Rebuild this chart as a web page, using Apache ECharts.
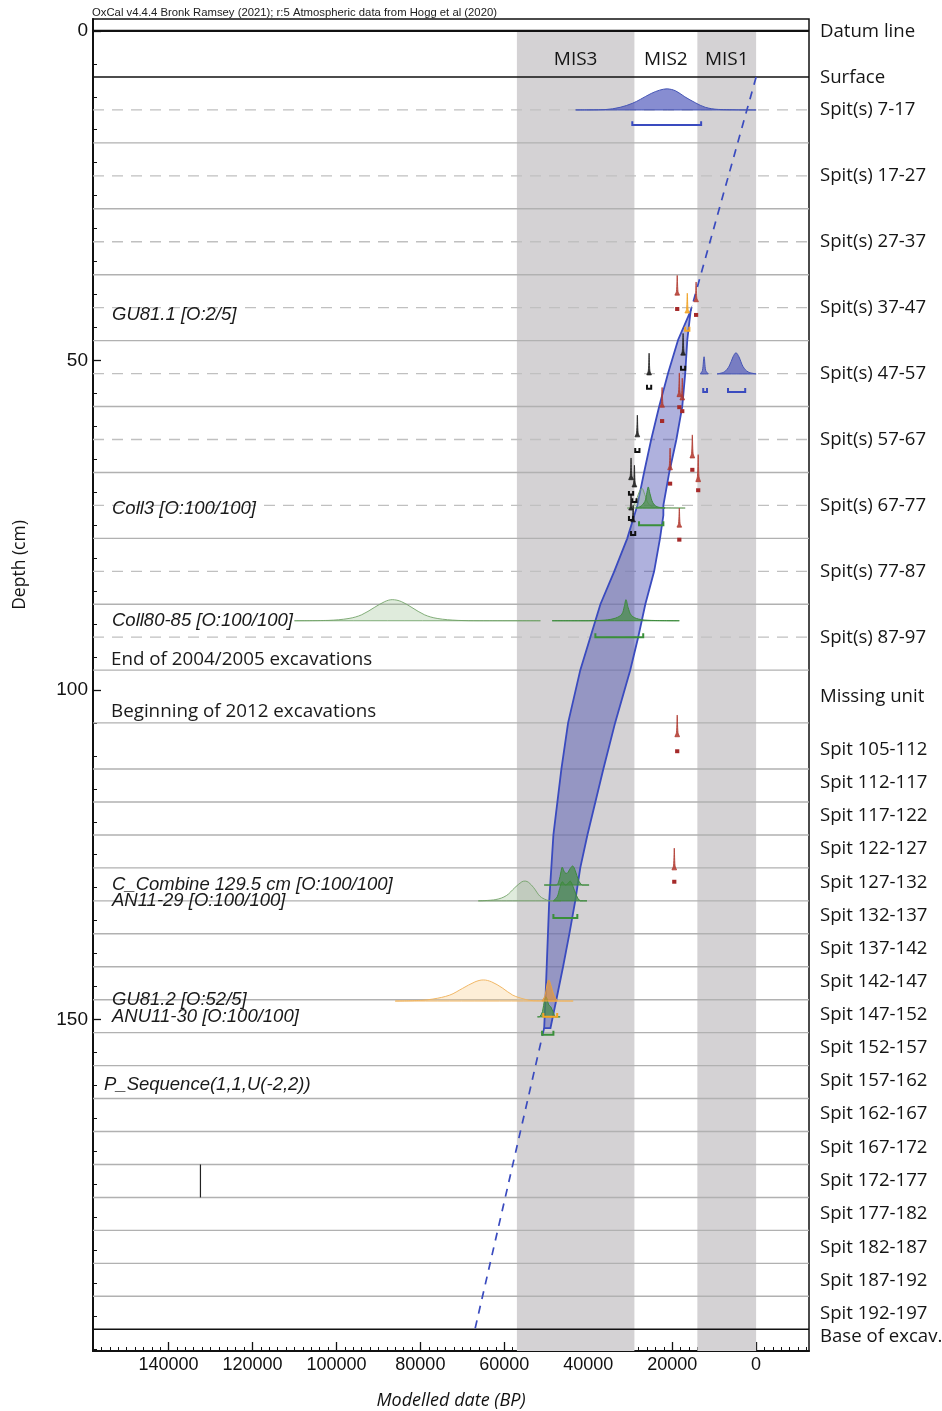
<!DOCTYPE html>
<html>
<head>
<meta charset="utf-8">
<script src="https://cdn.jsdelivr.net/npm/echarts@6/dist/echarts.min.js"></script>
<style>
  html, body { margin: 0; padding: 0; background: #fff; }
  #chart { width: 942px; height: 1411px; }
</style>
</head>
<body>
<div id="chart"></div>
<script>
// ---- Axis extents: modelled age (years BP) and depth below datum (cm) ----
const AGE_MAX = 158000;
const AGE_MIN = -12600;
const DEPTH_TOP = -1.8;
const DEPTH_BOTTOM = 200.3;

const ageTicks = [140000, 120000, 100000, 80000, 60000, 40000, 20000, 0];
const depthTicks = [0, 50, 100, 150];

// ---- Marine isotope stages (years BP) ----
const stageNames = ['MIS3', 'MIS2', 'MIS1'];
const stageOld = [57000, 29000, 14000];
const stageYoung = [29000, 14000, 0];

// ---- Stratigraphy (cm) ----
const spitBoundaries = [17, 27, 37, 47, 57, 67, 77, 87, 97, 105, 112, 117, 122, 127, 132, 137,
  142, 147, 152, 157, 162, 167, 172, 177, 182, 187, 192];
const spitMidlines = [12, 22, 32, 42, 52, 62, 72, 82, 92];
const markerLines = [0, 7, 197];            // datum, surface, base of excavation

const unitLabels = ['Datum line', 'Surface', 'Spit(s) 7-17', 'Spit(s) 17-27', 'Spit(s) 27-37',
  'Spit(s) 37-47', 'Spit(s) 47-57', 'Spit(s) 57-67', 'Spit(s) 67-77', 'Spit(s) 77-87',
  'Spit(s) 87-97', 'Missing unit', 'Spit 105-112', 'Spit 112-117', 'Spit 117-122',
  'Spit 122-127', 'Spit 127-132', 'Spit 132-137', 'Spit 137-142', 'Spit 142-147',
  'Spit 147-152', 'Spit 152-157', 'Spit 157-162', 'Spit 162-167', 'Spit 167-172',
  'Spit 172-177', 'Spit 177-182', 'Spit 182-187', 'Spit 187-192', 'Spit 192-197', 'Base of excav.'];
const unitDepths = [0.1, 7.1, 12, 22, 32, 42, 52, 62, 72, 82, 92, 101, 109, 114.1, 119.1,
  124.1, 129.2, 134.2, 139.2, 144.2, 149.3, 154.3, 159.3, 164.3, 169.5, 174.5, 179.5,
  184.6, 189.6, 194.6, 198.2];

// ---- Model annotations ----
const noteTexts = ['GU81.1 [O:2/5]', 'Coll3 [O:100/100]', 'Coll80-85 [O:100/100]',
  'End of 2004/2005 excavations', 'Beginning of 2012 excavations',
  'C_Combine 129.5 cm [O:100/100]', 'AN11-29 [O:100/100]', 'GU81.2 [O:52/5]',
  'ANU11-30 [O:100/100]', 'P_Sequence(1,1,U(-2,2))'];
const noteDepths = [43.1, 72.5, 89.5, 95.4, 103.3, 129.6, 132.0, 147.0, 149.6, 159.9];

// ---- Age-depth model: 95% envelope [age BP, depth cm] ----
const envelopeOld = [[15600, 42.5], [18600, 46.9], [21000, 52], [23100, 57], [25000, 62],
  [26700, 67], [28300, 72], [30700, 77], [33800, 82], [37100, 87], [39500, 92], [41900, 97],
  [44800, 105], [46400, 112], [48300, 122], [49300, 132], [49900, 142], [50200, 147], [50500, 151.3]];
const envelopeYoung = [[15600, 42.5], [16400, 46.9], [16900, 52], [17600, 57], [19000, 62],
  [20700, 67], [22100, 72], [22100, 73.5], [22900, 77], [24300, 82], [26400, 87], [28100, 92],
  [30000, 97], [33600, 105], [36400, 112], [40200, 122], [41900, 127], [43100, 132],
  [44500, 137], [46000, 142], [47600, 147], [49000, 151.3]];
// Extrapolated model line above and below the dated section
const modelLineTop = [[0, 7], [15600, 42.5]];
const modelLineBottom = [[50500, 151.3], [67100, 197.3]];

// ---- Probability distributions: baseline depth + outline [age BP, height cm] ----
const blueDists = [
  { depth: 12.0, pts: [[43000, 0], [36000, 0.05], [32400, 0.4], [29500, 1.0], [27600, 1.6], [25000, 2.5],
    [23000, 3.0], [21200, 3.2], [19200, 2.9], [17000, 2.0], [14500, 1.1], [12100, 0.4], [9000, 0.08], [0, 0]] },
  { depth: 52.05, pts: [[13300, 0], [12800, 0.5], [12400, 2.6], [12000, 0.5], [11400, 0]] },
  { depth: 52.05, pts: [[9300, 0], [7600, 0.3], [6400, 1.2], [5500, 2.6], [4800, 3.2], [4100, 2.6],
    [3100, 1.1], [1900, 0.3], [0, 0]] }
];
const blueRanges = [[29500, 13100, 14.3], [12600, 11700, 54.8], [6700, 2600, 54.8]];

const greenPriors = [
  { depth: 72.4, pts: [[30700, 0], [29800, 0], [28800, 0.8], [27900, 2.4], [27200, 3.0], [26500, 2.0],
    [25600, 0.6], [24200, 0.1], [16900, 0]] },
  { depth: 89.5, pts: [[110000, 0], [102000, 0.05], [97000, 0.35], [94000, 0.9], [91000, 2.0], [88500, 2.9],
    [86700, 3.2], [84500, 2.9], [82000, 2.0], [79000, 0.9], [76000, 0.35], [71000, 0.05], [66000, 0], [51400, 0]] },
  { depth: 132.0, pts: [[66200, 0], [62000, 0.2], [59500, 0.8], [57500, 2.0], [55800, 2.9], [55000, 3.0],
    [54200, 2.8], [53000, 2.0], [51500, 0.7], [50000, 0.15], [49000, 0], [46500, 0]] }
];
const greenPosteriors = [
  { depth: 72.4, pts: [[28600, 0], [27400, 0.3], [26500, 1.0], [26000, 2.4], [25700, 3.2], [25300, 2.2],
    [24600, 0.8], [23600, 0.2], [21700, 0]] },
  { depth: 89.5, pts: [[48600, 0], [40000, 0], [36000, 0.1], [33500, 0.4], [32000, 1.0], [31400, 2.2],
    [31000, 3.2], [30500, 2.0], [29700, 0.8], [28000, 0.25], [25000, 0.05], [18300, 0]] },
  { depth: 129.6, pts: [[50500, 0], [47600, 0], [47000, 0.6], [46500, 2.0], [46200, 2.7], [45600, 1.9],
    [45000, 1.8], [44300, 2.5], [43700, 2.9], [43100, 2.2], [42300, 0.7], [41400, 0], [39800, 0]] },
  { depth: 132.0, pts: [[48300, 0], [47400, 0.6], [46800, 1.9], [46200, 2.9], [45500, 2.4], [44900, 2.6],
    [44300, 3.0], [43700, 2.3], [42800, 0.8], [41900, 0], [40300, 0]] },
  { depth: 149.6, pts: [[52100, 0], [51600, 0], [50900, 0.8], [50400, 2.6], [50000, 3.0], [49400, 1.8],
    [48900, 1.5], [48300, 0.6], [47800, 0], [46700, 0]] }
];
const greenRanges = [[27900, 22100, 75.0], [38300, 26900, 92.0], [48300, 42600, 134.6], [51000, 48300, 152.3]];

const orangePriors = [
  { depth: 147.2, pts: [[86000, 0], [80000, 0.1], [77000, 0.3], [73000, 0.9], [70000, 1.9], [67000, 2.9],
    [65000, 3.2], [63000, 2.9], [60500, 2.0], [58000, 0.9], [55000, 0.25], [53000, 0.05], [43600, 0]] }
];
const orangePosteriors = [
  { depth: 147.2, pts: [[51000, 0], [50300, 0.8], [49800, 2.6], [49400, 3.2], [48900, 2.4], [48200, 0.9], [47400, 0]] }
];
const orangeRanges = [[50700, 47400, 149.6], [16900, 15900, 45.5]];

// Narrow single-date distributions: [peak age BP, baseline depth cm, height cm]
const redDates = [[18800, 40.1, 3.0], [14300, 41.1, 3.0], [18300, 55.5, 3.6], [17600, 56.0, 3.3],
  [22400, 57.1, 3.0], [15200, 64.8, 3.5], [20500, 66.6, 3.3], [13800, 68.4, 4.1], [18300, 75.3, 2.9],
  [18800, 107.1, 3.3], [19500, 127.3, 3.3]];
const redRanges = [[19300, 18300, 42.5], [14800, 13800, 43.4], [18800, 17800, 57.4], [18100, 17100, 58.0],
  [22900, 21900, 59.5], [15700, 14700, 66.9], [21000, 20000, 69.0], [14300, 13300, 70.0],
  [18800, 17800, 77.5], [19300, 18300, 109.6], [20000, 19000, 129.4]];
const blackDates = [[17400, 49.2, 3.3], [25500, 52.2, 3.3], [28300, 61.6, 3.3], [29800, 68.1, 3.3],
  [29000, 69.2, 3.3], [29800, 72.7, 2.5], [29300, 74.5, 2.5]];
const blackRanges = [[17900, 16900, 51.4], [26000, 25000, 54.3], [28800, 27800, 63.9], [30300, 29300, 70.4],
  [29500, 28500, 71.5], [30300, 29300, 74.2], [29800, 28800, 76.5]];
const orangeDates = [[16400, 42.8, 3.0]];

// Uniform prior marker in the sequence column [age BP, top depth, bottom depth]
const sequenceMarks = [[132400, 172, 177]];

// ---- Rendering ----
const ARIAL = "'Liberation Sans', Arial, sans-serif";
const MYRIAD = "'Open Sans', 'Noto Sans', sans-serif";
const BLUE = '#3a4bbf';

const ageMinor = [];
for (let v = -12000; v <= AGE_MAX; v += 2000) ageMinor.push(v);
const depthMinor = [];
for (let v = 0; v <= 200; v += 5) depthMinor.push(v);

function custom(name, data, z, renderItem) {
  return { type: 'custom', name, coordinateSystem: 'cartesian2d', xAxisIndex: 0, yAxisIndex: 0,
    z, silent: true, animation: false, data, renderItem };
}

function spikeOutline(age, h) {
  const w = 550;
  return [[age + w, 0], [age + w * 0.35, h * 0.18], [age, h], [age - w * 0.35, h * 0.18], [age - w, 0]];
}

function distSeries(name, list, fill, stroke, lineWidth, z) {
  return custom(name, list.map(d => [d.pts[0][0], d.depth]), z, (params, api) => {
    const d = list[params.dataIndex];
    const pts = d.pts.map(p => api.coord([p[0], d.depth - p[1]]));
    let minX = Infinity, maxX = -Infinity, minY = Infinity, maxY = -Infinity;
    pts.forEach(p => { minX = Math.min(minX, p[0]); maxX = Math.max(maxX, p[0]);
      minY = Math.min(minY, p[1]); maxY = Math.max(maxY, p[1]); });
    return { type: 'polygon',
      shape: { points: pts, smooth: 0.35, smoothConstraint: [[minX, minY], [maxX, maxY]] },
      style: { fill, stroke, lineWidth } };
  });
}

function spikeSeries(name, list, fill, stroke, z) {
  return distSeries(name, list.map(s => ({ depth: s[1], pts: spikeOutline(s[0], s[2]) })), fill, stroke, 0.8, z);
}

function rangeSeries(name, list, color, filled, z) {
  return custom(name, list, z, (params, api) => {
    const a = api.coord([api.value(0), api.value(2)]);
    const b = api.coord([api.value(1), api.value(2)]);
    const top = api.coord([api.value(0), api.value(2) - 0.6])[1];
    if (filled) {
      return { type: 'rect', shape: { x: a[0], y: top, width: b[0] - a[0], height: a[1] - top },
        style: { fill: color } };
    }
    return { type: 'polyline', shape: { points: [[a[0], top], [a[0], a[1]], [b[0], b[1]], [b[0], top]] },
      style: { stroke: color, lineWidth: 2, fill: null } };
  });
}

function hLineSeries(name, depths, z, styleFor) {
  return custom(name, depths.map(d => [d]), z, (params, api) => {
    const cs = params.coordSys;
    const y = api.coord([0, api.value(0)])[1];
    return { type: 'line', shape: { x1: cs.x, y1: y, x2: cs.x + cs.width, y2: y },
      style: styleFor(params.dataIndex) };
  });
}

const series = [
  // stage bands with labels
  custom('stages', stageNames.map((n, i) => [stageOld[i], stageYoung[i]]), 1, (params, api) => {
    const cs = params.coordSys;
    const name = stageNames[params.dataIndex];
    const p0 = api.coord([api.value(0), 0]);
    const p1 = api.coord([api.value(1), 0]);
    const children = [];
    if (/[13579]$/.test(name)) {
      children.push({ type: 'rect', shape: { x: p0[0], y: p0[1], width: p1[0] - p0[0], height: cs.y + cs.height - p0[1] },
        style: { fill: '#d4d2d4' } });
    }
    const c = api.coord([(api.value(0) + api.value(1)) / 2, 4.3]);
    children.push({ type: 'text', x: c[0], y: c[1], style: { text: name, fontFamily: MYRIAD, fontSize: 19,
      fill: '#151515', align: 'center', verticalAlign: 'middle' } });
    return { type: 'group', children };
  }),
  hLineSeries('boundaries', spitBoundaries, 2, () => ({ stroke: '#b1b1b1', lineWidth: 1.4 })),
  hLineSeries('midlines', spitMidlines, 2, () => ({ stroke: '#c0c0c0', lineWidth: 1.3, lineDash: [11, 8] })),
  hLineSeries('markers', markerLines, 3, i => ({ stroke: '#111', lineWidth: [2.2, 1.3, 1.5][i] })),
  // modelled envelope
  custom('envelope', [[envelopeOld[0][0], envelopeOld[0][1]]], 4, (params, api) => {
    const pts = envelopeOld.map(p => api.coord(p))
      .concat(envelopeYoung.slice().reverse().map(p => api.coord(p)));
    return { type: 'polygon', shape: { points: pts },
      style: { fill: 'rgba(55,60,170,0.40)', stroke: BLUE, lineWidth: 1.8 } };
  }),
  { type: 'line', name: 'model top', data: modelLineTop, showSymbol: false, symbol: 'none', z: 5, silent: true,
    clip: false, lineStyle: { color: BLUE, width: 1.7, type: [8, 7] } },
  { type: 'line', name: 'model bottom', data: modelLineBottom, showSymbol: false, symbol: 'none', z: 5, silent: true,
    clip: false, lineStyle: { color: BLUE, width: 1.7, type: [8, 7] } },
  distSeries('green priors', greenPriors, 'rgba(150,190,140,0.30)', 'rgba(110,160,100,0.85)', 1, 6),
  distSeries('orange priors', orangePriors, 'rgba(250,205,140,0.35)', 'rgba(240,180,95,0.95)', 1, 6),
  distSeries('blue dists', blueDists, 'rgba(70,80,185,0.65)', '#4555b5', 1, 7),
  distSeries('green posteriors', greenPosteriors, 'rgba(70,140,70,0.72)', '#3d8b3d', 1, 7),
  distSeries('orange posteriors', orangePosteriors, 'rgba(232,150,50,0.65)', '#e8a040', 1, 8),
  spikeSeries('red dates', redDates, 'rgba(180,55,45,0.85)', '#b03a30', 8),
  spikeSeries('black dates', blackDates, 'rgba(30,30,30,0.9)', '#222', 8),
  spikeSeries('orange dates', orangeDates, 'rgba(245,170,40,0.9)', '#f0a020', 8),
  rangeSeries('blue ranges', blueRanges, BLUE, false, 9),
  rangeSeries('green ranges', greenRanges, '#3a8f3a', false, 9),
  rangeSeries('orange ranges', orangeRanges, '#f5a623', false, 9),
  rangeSeries('red ranges', redRanges, '#a52a2a', true, 9),
  rangeSeries('black ranges', blackRanges, '#111', false, 9),
  custom('sequence marks', sequenceMarks, 9, (params, api) => {
    const a = api.coord([api.value(0), api.value(1)]);
    const b = api.coord([api.value(0), api.value(2)]);
    return { type: 'line', shape: { x1: a[0], y1: a[1], x2: b[0], y2: b[1] }, style: { stroke: '#222', lineWidth: 1.2 } };
  }),
  custom('notes', noteDepths.map(d => [AGE_MAX, d]), 10, (params, api) => {
    const t = noteTexts[params.dataIndex];
    const p = api.coord([api.value(0), api.value(1)]);
    const upright = /excavations/.test(t);
    const indent = /^P_/.test(t) ? 11 : (upright ? 18 : 19);
    return { type: 'text', x: p[0] + indent, y: p[1], style: { text: t,
      fontFamily: upright ? MYRIAD : ARIAL, fontStyle: upright ? 'normal' : 'italic',
      fontSize: upright ? 18.8 : 18.5, fill: '#1a1a1a', verticalAlign: 'middle' } };
  })
];

const option = {
  animation: false,
  backgroundColor: '#fff',
  title: {
    text: 'OxCal v4.4.4 Bronk Ramsey (2021); r:5 Atmospheric data from Hogg et al (2020)',
    left: 92, top: 7, padding: 0,
    textStyle: { fontFamily: ARIAL, fontSize: 11.3, fontWeight: 'normal', color: '#222' }
  },
  grid: { left: 93, right: 133, top: 19, bottom: 60, show: true, borderColor: '#111', borderWidth: 1.5,
    backgroundColor: 'transparent', containLabel: false, outerBoundsMode: 'none' },
  graphic: [{
    type: 'text', x: 20, y: 565, rotation: Math.PI / 2,
    style: { text: 'Depth (cm)', fontFamily: MYRIAD, fontSize: 17.5, fill: '#151515', align: 'center', verticalAlign: 'middle' }
  }],
  xAxis: [{
    type: 'value', min: AGE_MIN, max: AGE_MAX, inverse: true, position: 'bottom',
    axisLine: { show: true, onZero: false, lineStyle: { color: '#111', width: 2 } },
    axisTick: { show: true, inside: true, length: 9, customValues: ageTicks, lineStyle: { color: '#111', width: 1.3 } },
    axisLabel: { customValues: ageTicks, formatter: v => String(v), fontFamily: ARIAL, fontSize: 18, color: '#111', margin: 5 },
    splitLine: { show: false },
    name: 'Modelled date (BP)', nameLocation: 'middle', nameGap: 41,
    nameTextStyle: { fontFamily: MYRIAD, fontStyle: 'italic', fontSize: 18, color: '#111' }
  }, {
    type: 'value', min: AGE_MIN, max: AGE_MAX, inverse: true, position: 'bottom',
    axisLine: { show: false, onZero: false }, axisLabel: { show: false }, splitLine: { show: false },
    axisTick: { show: true, inside: true, length: 4, customValues: ageMinor, lineStyle: { color: '#111', width: 1 } }
  }],
  yAxis: [{
    type: 'value', min: DEPTH_TOP, max: DEPTH_BOTTOM, inverse: true, position: 'left',
    axisLine: { show: true, onZero: false, lineStyle: { color: '#111', width: 2 } },
    axisTick: { show: true, inside: true, length: 8, customValues: depthTicks, lineStyle: { color: '#111', width: 1.3 } },
    axisLabel: { customValues: depthTicks, fontFamily: ARIAL, fontSize: 19, color: '#111', margin: 5 },
    splitLine: { show: false }
  }, {
    type: 'value', min: DEPTH_TOP, max: DEPTH_BOTTOM, inverse: true, position: 'left',
    axisLine: { show: false, onZero: false }, axisLabel: { show: false }, splitLine: { show: false },
    axisTick: { show: true, inside: true, length: 4, customValues: depthMinor, lineStyle: { color: '#111', width: 1 } }
  }, {
    type: 'value', min: DEPTH_TOP, max: DEPTH_BOTTOM, inverse: true, position: 'right',
    axisLine: { show: false, onZero: false }, axisTick: { show: false }, splitLine: { show: false },
    axisLabel: {
      customValues: unitDepths,
      formatter: v => {
        let best = 0;
        unitDepths.forEach((d, i) => { if (Math.abs(d - v) < Math.abs(unitDepths[best] - v)) best = i; });
        return unitLabels[best];
      },
      fontFamily: MYRIAD, fontSize: 18.6, color: '#151515', margin: 11
    }
  }],
  series
};

const chart = echarts.init(document.getElementById('chart'), null, { renderer: 'canvas' });
chart.setOption(option);
</script>
</body>
</html>
